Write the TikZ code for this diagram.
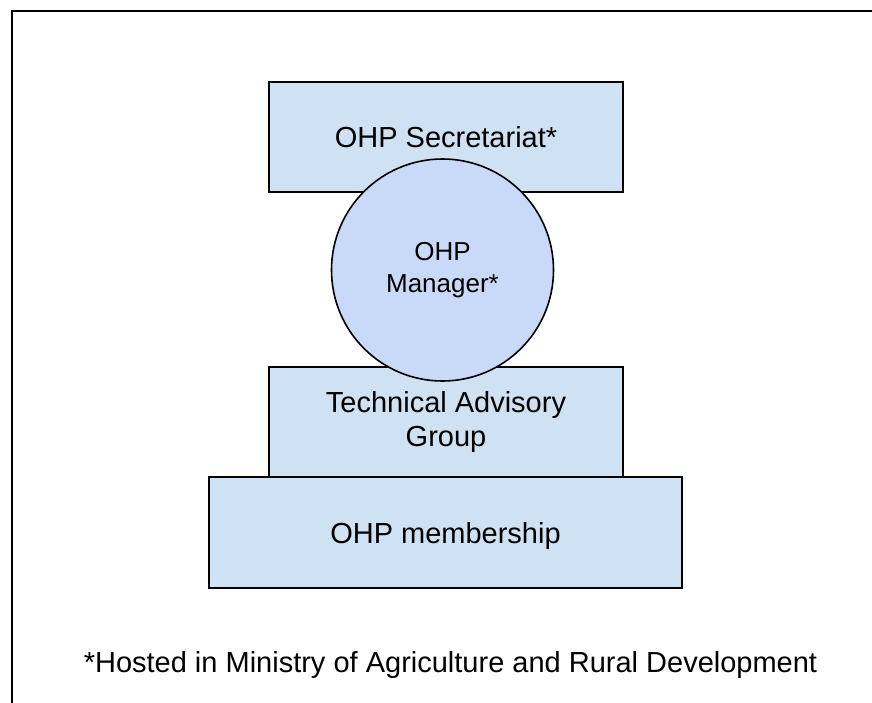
\documentclass[tikz,border=0pt]{standalone}
\usepackage{fontspec}
\setmainfont{Liberation Sans}
\definecolor{boxblue}{HTML}{CFE2F3}
\definecolor{discblue}{HTML}{C9DAF8}
\begin{document}
\begin{tikzpicture}[x=0.75pt,y=-0.75pt,
  unitbox/.style={rectangle, draw=black, line width=1.5pt, fill=boxblue,
    inner sep=0pt, align=center,
    font=\fontsize{21.75}{25.5}\selectfont},
  disc/.style={circle, draw=black, line width=1.2pt, fill=discblue,
    inner sep=0pt, align=center, minimum size=166.5pt,
    font=\fontsize{19.5}{24}\selectfont},
  note/.style={inner sep=0pt, font=\fontsize{21.75}{25.5}\selectfont}]
  \useasboundingbox (0,0) rectangle (872,703);
  % page frame (open at right and bottom)
  \draw[line width=1.5pt] (12,703) -- (12,10.5) -- (872,10.5);
  % organisational units
  \node[unitbox, minimum width=265.5pt, minimum height=82.5pt]
    (secretariat) at (446,137) {OHP Secretariat*};
  \node[unitbox, minimum width=265.5pt, minimum height=82.5pt]
    (tag) at (446,422) {Technical Advisory\\Group};
  \node[unitbox, minimum width=354.75pt, minimum height=83.25pt, text depth=0pt]
    (membership) at (445.5,532.5) {OHP membership};
  \node[disc] (manager) at (442.5,270) {OHP\\Manager*};
  % footnote
  \node[note, anchor=base] (footnote) at (450.5,672)
    {*Hosted in Ministry of Agriculture and Rural Development};
\end{tikzpicture}
\end{document}
